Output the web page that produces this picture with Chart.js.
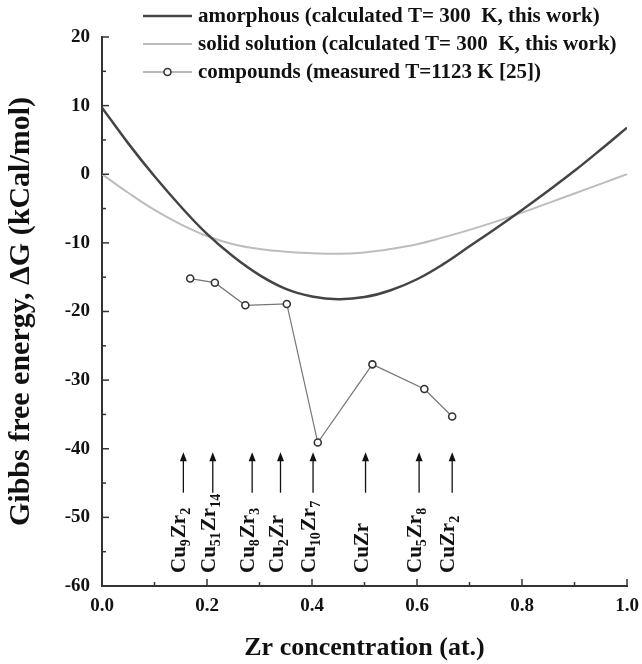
<!DOCTYPE html>
<html>
<head>
<meta charset="utf-8">
<script src="https://cdn.jsdelivr.net/npm/chart.js@4.4.1/dist/chart.umd.min.js"></script>
<style>
  html, body { margin: 0; padding: 0; background: #fff; }
  #wrap { width: 642px; height: 664px; position: relative; }
</style>
</head>
<body>
<div id="wrap"><canvas id="grafico"></canvas></div>
<script>
// Datos
const zr = [0, 0.05, 0.1, 0.15, 0.2, 0.25, 0.3, 0.35, 0.4, 0.45, 0.5, 0.55, 0.6, 0.65, 0.7, 0.75, 0.8, 0.85, 0.9, 0.95, 1.0];
const amorphous = [9.7, 4.5, -0.3, -4.7, -8.7, -12.0, -14.7, -16.7, -17.8, -18.2, -17.9, -16.9, -15.3, -13.1, -10.5, -7.9, -5.2, -2.4, 0.5, 3.6, 6.8];
const solidSolution = [0, -2.7, -5.2, -7.3, -9.0, -10.2, -10.9, -11.3, -11.5, -11.6, -11.4, -10.9, -10.2, -9.2, -8.1, -6.9, -5.6, -4.2, -2.8, -1.4, 0];

const compX = [0.168, 0.215, 0.273, 0.352, 0.411, 0.515, 0.614, 0.667];
const compY = [-15.2, -15.8, -19.1, -18.9, -39.1, -27.7, -31.3, -35.3];

// flechas con las fases
const phaseX = [0.155, 0.211, 0.286, 0.340, 0.402, 0.502, 0.604, 0.667];
const phaseNames = ['Cu9Zr2', 'Cu51Zr14', 'Cu8Zr3', 'Cu2Zr', 'Cu10Zr7', 'CuZr', 'Cu5Zr8', 'CuZr2'];
const arrowFrom = -46.4;
const arrowTo = -40.5;

const xTicks = [0, 0.2, 0.4, 0.6, 0.8, 1.0];
const yTicks = [-60, -50, -40, -30, -20, -10, 0, 10, 20];

const serif = '"Liberation Serif", "Times New Roman", serif';

const toPoints = (xs, ys) => xs.map((x, i) => ({ x: x, y: ys[i] }));

// Ticks hacia dentro, flechas, etiquetas y leyenda
const extras = {
    id: 'extras',
    afterDraw(chart) {
        const { ctx, chartArea, scales: { x, y } } = chart;
        ctx.save();

        // ticks
        ctx.strokeStyle = '#333';
        ctx.lineWidth = 1.5;
        for (let v = 0; v <= 1.0001; v += 0.1) {
            const px = x.getPixelForValue(v);
            const major = Math.round(v * 10) % 2 === 0;
            ctx.beginPath();
            ctx.moveTo(px, chartArea.bottom);
            ctx.lineTo(px, chartArea.bottom - (major ? 7 : 4));
            ctx.stroke();
        }
        for (let v = -60; v <= 20; v += 5) {
            const py = y.getPixelForValue(v);
            const major = v % 10 === 0;
            ctx.beginPath();
            ctx.moveTo(chartArea.left, py);
            ctx.lineTo(chartArea.left + (major ? 7 : 4), py);
            ctx.stroke();
        }

        // flechas
        ctx.strokeStyle = '#111';
        ctx.fillStyle = '#111';
        ctx.lineWidth = 1.3;
        const yTop = y.getPixelForValue(arrowTo);
        const yBot = y.getPixelForValue(arrowFrom);
        phaseX.forEach(v => {
            const px = x.getPixelForValue(v);
            ctx.beginPath();
            ctx.moveTo(px, yBot);
            ctx.lineTo(px, yTop + 6);
            ctx.stroke();
            ctx.beginPath();
            ctx.moveTo(px, yTop);
            ctx.lineTo(px - 3.5, yTop + 9);
            ctx.lineTo(px + 3.5, yTop + 9);
            ctx.closePath();
            ctx.fill();
        });

        // etiquetas giradas con subíndices
        phaseNames.forEach((name, i) => {
            const px = x.getPixelForValue(phaseX[i]);
            ctx.save();
            ctx.translate(px + 2, chartArea.bottom - 13);
            ctx.rotate(-Math.PI / 2);
            ctx.textBaseline = 'alphabetic';
            ctx.textAlign = 'left';
            let cx = 0;
            name.split(/(\d+)/).filter(s => s).forEach(part => {
                const sub = /^\d+$/.test(part);
                ctx.font = sub ? 'bold 14px ' + serif : 'bold 21px ' + serif;
                ctx.fillText(part, cx, sub ? 5 : 0);
                cx += ctx.measureText(part).width + (sub ? 1 : 0);
            });
            ctx.restore();
        });

        // leyenda
        const rows = [16, 44, 72];
        ctx.font = 'bold 21px ' + serif;
        ctx.textBaseline = 'middle';
        ctx.textAlign = 'left';
        chart.data.datasets.forEach((ds, i) => {
            const ry = rows[i];
            ctx.strokeStyle = ds.borderColor;
            ctx.lineWidth = ds.borderWidth;
            ctx.beginPath();
            ctx.moveTo(143, ry);
            ctx.lineTo(192, ry);
            ctx.stroke();
            if (ds.pointRadius > 0) {
                ctx.fillStyle = '#fff';
                ctx.strokeStyle = ds.pointBorderColor;
                ctx.lineWidth = ds.pointBorderWidth;
                ctx.beginPath();
                ctx.arc(167.5, ry, ds.pointRadius, 0, Math.PI * 2);
                ctx.fill();
                ctx.stroke();
            }
            ctx.fillStyle = '#111';
            ctx.fillText(ds.label, 198, ry + 1);
        });

        ctx.restore();
    }
};

const config = {
    type: 'line',
    data: {
        datasets: [{
            label: 'amorphous (calculated T= 300  K, this work)',
            data: toPoints(zr, amorphous),
            borderColor: '#444',
            borderWidth: 2.5,
            pointRadius: 0,
            tension: 0.4
        }, {
            label: 'solid solution (calculated T= 300  K, this work)',
            data: toPoints(zr, solidSolution),
            borderColor: '#bdbdbd',
            borderWidth: 2,
            pointRadius: 0,
            tension: 0.4
        }, {
            label: 'compounds (measured T=1123 K [25])',
            data: toPoints(compX, compY),
            borderColor: '#777',
            borderWidth: 1.2,
            pointRadius: 3.5,
            pointBackgroundColor: '#fff',
            pointBorderColor: '#333',
            pointBorderWidth: 1.6,
            tension: 0
        }]
    },
    options: {
        responsive: true,
        maintainAspectRatio: false,
        animation: false,
        layout: { padding: { top: 37, right: 15, left: 0, bottom: 0 } },
        plugins: {
            legend: { display: false },
            tooltip: { enabled: false }
        },
        scales: {
            x: {
                type: 'linear',
                min: 0,
                max: 1,
                afterBuildTicks: axis => { axis.ticks = xTicks.map(v => ({ value: v })); },
                afterFit: axis => {
                    axis.height = 78;
                    axis.paddingLeft = 0;
                    axis.paddingRight = 0;
                },
                ticks: {
                    padding: 9,
                    color: '#111',
                    font: { family: serif, size: 19, weight: 'bold' },
                    callback: v => Number(v).toFixed(1)
                },
                grid: { display: false, drawTicks: false },
                border: { display: true, color: '#333', width: 2 },
                title: {
                    display: true,
                    text: 'Zr concentration (at.)',
                    color: '#111',
                    font: { family: serif, size: 26, weight: 'bold' },
                    padding: { top: 10, bottom: 0 }
                }
            },
            y: {
                min: -60,
                max: 20,
                afterBuildTicks: axis => { axis.ticks = yTicks.map(v => ({ value: v })); },
                afterFit: axis => { axis.width = 102; },
                ticks: {
                    padding: 12,
                    color: '#111',
                    font: { family: serif, size: 19, weight: 'bold' }
                },
                grid: { display: false, drawTicks: false },
                border: { display: true, color: '#333', width: 2 },
                title: {
                    display: true,
                    text: 'Gibbs free energy, ΔG (kCal/mol)',
                    color: '#111',
                    font: { family: serif, size: 30, weight: 'bold' },
                    padding: { top: 3, bottom: 0 }
                }
            }
        }
    },
    plugins: [extras]
};

new Chart(document.getElementById('grafico').getContext('2d'), config);
</script>
</body>
</html>
